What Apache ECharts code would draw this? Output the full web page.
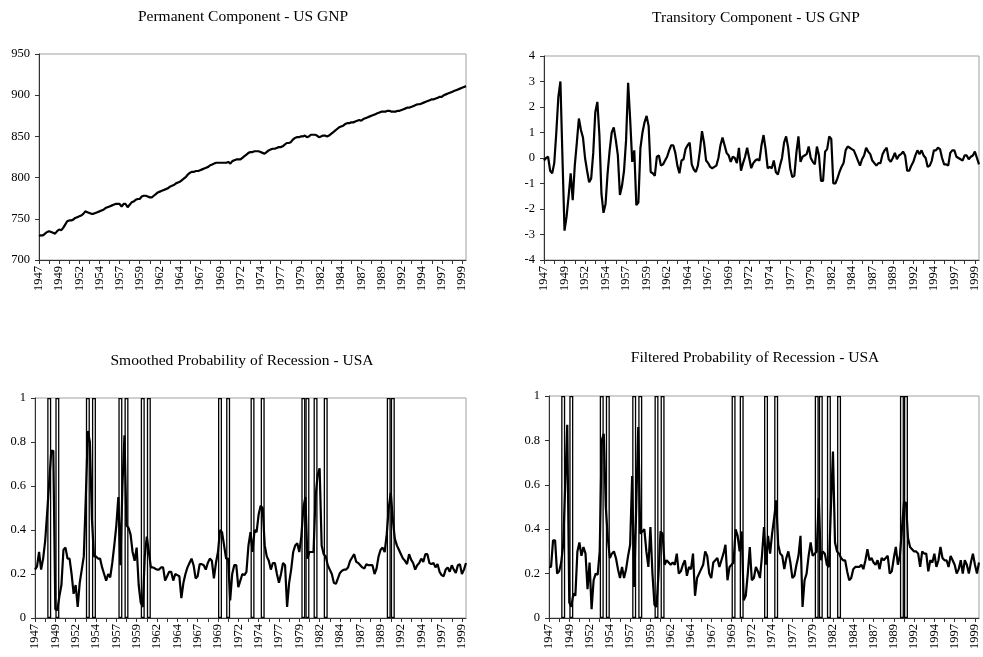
<!DOCTYPE html>
<html><head><meta charset="utf-8">
<script src="https://cdn.jsdelivr.net/npm/echarts@6/dist/echarts.min.js"></script>
<style>html,body{margin:0;padding:0;background:#fff}#c{width:983px;height:657px}</style>
</head><body><div id="c"></div>
<script>
// Quarterly categories 1947Q1 .. 2000Q1
const startYear = 1947;
const nQuarters = 213;
const categories = [];
for (let i = 0; i < nQuarters; i++) categories.push((startYear + Math.floor(i / 4)) + 'Q' + (i % 4 + 1));

const titles = [
  'Permanent Component - US GNP',
  'Transitory Component - US GNP',
  'Smoothed Probability of Recession - USA',
  'Filtered Probability of Recession - USA'
];

const permanent = [
  729,730,730,732, 734,735,734,733, 732,735,737,736, 739,743,747,748,
  748,749,751,752, 753,754,756,759, 758,757,756,756, 757,758,759,760,
  761,763,764,765, 766,767,768,768, 768,765,768,768, 764,767,770,771,
  773,774,774,777, 778,778,777,776, 776,778,780,782, 783,784,785,786,
  787,789,790,791, 793,794,795,797, 799,801,804,806, 807,807,808,808,
  809,810,811,812, 813,815,816,817, 818,818,818,818, 818,818,819,817,
  820,821,822,822, 822,824,826,828, 830,831,831,832, 832,832,831,830,
  829,831,833,834, 835,835,836,837, 837,838,840,842, 842,843,846,848,
  849,849,850,850, 851,849,850,852, 852,852,851,849, 850,851,851,850,
  851,853,855,857, 859,861,862,863, 865,866,866,867, 867,868,869,870,
  869,871,872,873, 874,875,876,877, 878,879,880,880, 880,881,881,880,
  880,880,881,881, 882,883,884,885, 885,886,887,888, 889,889,890,891,
  892,893,894,895, 895,896,897,898, 898,900,901,902, 903,904,905,906,
  907,908,909,910, 911
];

const transitory = [
  -0.1,0.0,0.05,-0.5, -0.6,-0.2,1.0,2.4, 3.0,0.0,-2.85,-2.3, -1.5,-0.6,-1.65,-0.3,
  0.6,1.55,1.1,0.8, 0.0,-0.5,-0.95,-0.8, 0.2,1.8,2.2,0.9, -1.4,-2.15,-1.8,-0.6,
  0.3,1.0,1.2,0.7, 0.1,-1.45,-1.1,-0.5, 0.7,2.95,1.5,-0.15, 0.3,-1.85,-1.75,0.4,
  1.0,1.4,1.65,1.25, -0.55,-0.6,-0.7,0.05, 0.1,-0.3,-0.25,-0.1, 0.05,0.3,0.5,0.5,
  0.2,-0.3,-0.6,-0.1, -0.05,0.35,0.5,0.6, -0.25,-0.45,-0.55,-0.3, 0.3,1.05,0.6,-0.1,
  -0.2,-0.35,-0.4,-0.35, -0.3,0.0,0.5,0.8, 0.5,0.2,0.1,-0.15, 0.05,0.0,-0.2,0.4,
  -0.5,-0.2,0.05,0.4, 0.0,-0.4,-0.2,-0.1, -0.05,-0.1,0.5,0.9, 0.35,-0.4,-0.35,-0.4,
  -0.1,-0.55,-0.65,-0.3, 0.0,0.6,0.85,0.4, -0.4,-0.75,-0.7,0.2, 0.85,-0.15,0.05,0.1,
  0.15,0.45,0.0,-0.15, -0.25,0.45,0.1,-0.9, -0.9,0.25,0.35,0.85, 0.75,-1.0,-1.0,-0.8,
  -0.55,-0.35,-0.2,0.3, 0.45,0.4,0.35,0.3, 0.1,-0.1,-0.3,-0.05, 0.1,0.4,0.25,0.15,
  -0.1,-0.2,-0.3,-0.2, -0.2,0.15,0.3,0.4, -0.05,-0.15,0.0,0.2, -0.05,0.1,0.15,0.25,
  0.1,-0.5,-0.5,-0.3, -0.15,0.1,0.3,0.15, 0.3,0.1,0.0,-0.35, -0.3,-0.1,0.3,0.3,
  0.4,0.35,0.0,-0.25, -0.25,-0.3,0.2,0.3, 0.3,0.05,0.0,-0.05, -0.1,0.1,0.1,-0.05,
  0.05,0.1,0.25,0.0, -0.25
];

const smoothed = [
  0.22,0.235,0.30,0.22, 0.27,0.35,0.48,0.62, 0.76,0.76,0.04,0.035, 0.1,0.15,0.31,0.32,
  0.27,0.27,0.2,0.11, 0.15,0.05,0.16,0.22, 0.28,0.55,0.85,0.8, 0.45,0.28,0.28,0.27,
  0.27,0.23,0.2,0.17, 0.2,0.185,0.25,0.33, 0.42,0.55,0.24,0.6, 0.83,0.42,0.41,0.38,
  0.3,0.26,0.32,0.15, 0.07,0.05,0.28,0.37, 0.3,0.23,0.23,0.225, 0.22,0.22,0.23,0.23,
  0.17,0.19,0.21,0.21, 0.17,0.2,0.195,0.19, 0.09,0.16,0.2,0.23, 0.25,0.27,0.24,0.18,
  0.19,0.245,0.245,0.24, 0.22,0.25,0.27,0.26, 0.18,0.25,0.3,0.4, 0.39,0.33,0.27,0.27,
  0.08,0.2,0.24,0.24, 0.14,0.17,0.2,0.195, 0.21,0.33,0.39,0.3, 0.4,0.39,0.47,0.51,
  0.5,0.33,0.28,0.26, 0.22,0.25,0.25,0.2, 0.16,0.2,0.25,0.24, 0.05,0.16,0.22,0.3,
  0.33,0.34,0.3,0.37, 0.5,0.55,0.27,0.3, 0.3,0.3,0.55,0.65, 0.68,0.33,0.29,0.28,
  0.24,0.22,0.2,0.16, 0.155,0.18,0.205,0.215, 0.22,0.22,0.23,0.26, 0.275,0.29,0.255,0.25,
  0.24,0.23,0.225,0.245, 0.24,0.24,0.24,0.2, 0.225,0.28,0.31,0.32, 0.3,0.38,0.5,0.57,
  0.45,0.36,0.33,0.31, 0.29,0.27,0.26,0.245, 0.29,0.265,0.25,0.22, 0.24,0.25,0.27,0.255,
  0.29,0.29,0.25,0.245, 0.25,0.23,0.245,0.21, 0.195,0.19,0.22,0.23, 0.21,0.24,0.22,0.205,
  0.24,0.245,0.2,0.22, 0.25
];

const filtered = [
  0.23,0.23,0.35,0.35, 0.2,0.21,0.25,0.33, 0.6,0.87,0.07,0.05, 0.11,0.1,0.3,0.34,
  0.28,0.32,0.29,0.13, 0.25,0.04,0.17,0.2, 0.195,0.3,0.8,0.83, 0.5,0.36,0.27,0.29,
  0.3,0.27,0.22,0.18, 0.23,0.18,0.22,0.28, 0.33,0.64,0.14,0.5, 0.86,0.38,0.39,0.4,
  0.3,0.23,0.41,0.2, 0.06,0.05,0.2,0.39, 0.38,0.24,0.26,0.25, 0.24,0.25,0.24,0.29,
  0.2,0.21,0.24,0.26, 0.19,0.23,0.22,0.29, 0.1,0.18,0.2,0.22, 0.24,0.3,0.28,0.2,
  0.18,0.25,0.26,0.27, 0.23,0.26,0.29,0.33, 0.17,0.23,0.24,0.25, 0.4,0.37,0.3,0.39,
  0.08,0.1,0.2,0.32, 0.17,0.18,0.23,0.21, 0.18,0.28,0.41,0.24, 0.37,0.29,0.38,0.45,
  0.53,0.33,0.29,0.28, 0.22,0.27,0.3,0.25, 0.18,0.19,0.24,0.28, 0.37,0.05,0.17,0.2,
  0.28,0.34,0.28,0.29, 0.3,0.54,0.26,0.3, 0.29,0.24,0.23,0.5, 0.75,0.34,0.3,0.29,
  0.27,0.26,0.26,0.21, 0.17,0.18,0.22,0.23, 0.23,0.23,0.24,0.22, 0.26,0.31,0.26,0.27,
  0.25,0.24,0.26,0.22, 0.27,0.26,0.27,0.28, 0.2,0.21,0.27,0.32, 0.24,0.28,0.4,0.52,
  0.52,0.36,0.32,0.31, 0.3,0.3,0.29,0.23, 0.3,0.29,0.29,0.21, 0.26,0.25,0.29,0.23,
  0.26,0.32,0.27,0.26, 0.26,0.23,0.28,0.26, 0.24,0.2,0.22,0.26, 0.2,0.26,0.24,0.2,
  0.25,0.29,0.24,0.2, 0.25
];

// NBER peak / trough quarters drawn as vertical markers
const recessionQuarters = ['1948Q4','1949Q4','1953Q3','1954Q2','1957Q3','1958Q2','1960Q2','1961Q1',
  '1969Q4','1970Q4','1973Q4','1975Q1','1980Q1','1980Q3','1981Q3','1982Q4','1990Q3','1991Q1'];

const yRanges = [
  {min: 700, max: 950, interval: 50},
  {min: -4, max: 4, interval: 1},
  {min: 0, max: 1, interval: 0.2},
  {min: 0, max: 1, interval: 0.2}
];

const FONT = 'Liberation Serif';
const grids = [
  {left: 39, top: 54, width: 427, height: 206},
  {left: 544, top: 56, width: 435, height: 204},
  {left: 35, top: 398, width: 431, height: 220},
  {left: 549, top: 396, width: 430, height: 222}
];
const titlePos = [[238, 4], [751, 5], [237, 348], [750, 345]];

const chart = echarts.init(document.getElementById('c'), null, {renderer: 'canvas'});
const option = {
  animation: false,
  backgroundColor: '#fff',
  title: titles.map((t, k) => ({
    text: t, left: titlePos[k][0], top: titlePos[k][1], textAlign: 'center',
    textStyle: {fontFamily: FONT, fontSize: 15.5, fontWeight: 'normal', color: '#000'}
  })),
  grid: grids.map(g => Object.assign({show: true, borderColor: '#a0a0a0', borderWidth: 1, backgroundColor: '#fff'}, g)),
  xAxis: grids.map((g, k) => ({
    type: 'category', gridIndex: k, data: categories, boundaryGap: false,
    axisLine: {onZero: false, lineStyle: {color: '#333', width: 1}},
    axisTick: {interval: 4, length: 4, lineStyle: {color: '#333'}},
    axisLabel: {interval: 9, rotate: 90, margin: 6, fontFamily: FONT, fontSize: 12.5, color: '#000',
      formatter: v => v.slice(0, 4)},
    splitLine: {show: false}
  })),
  yAxis: yRanges.map((r, k) => ({
    type: 'value', gridIndex: k, min: r.min, max: r.max, interval: r.interval,
    axisLine: {show: true, lineStyle: {color: '#333', width: 1}},
    axisTick: {show: true, length: 4, lineStyle: {color: '#333'}},
    axisLabel: {margin: 9, fontFamily: FONT, fontSize: 12.5, color: '#000'},
    splitLine: {show: false}
  })),
  series: [
    ...[permanent, transitory, smoothed, filtered].map((d, k) => ({
      type: 'line', xAxisIndex: k, yAxisIndex: k, data: d, symbol: 'none',
      lineStyle: {color: '#000', width: 2.2}, z: 3
    })),
    ...[2, 3].map(k => ({
      type: 'bar', xAxisIndex: k, yAxisIndex: k, barWidth: 4, z: 4,
      data: categories.map(c => recessionQuarters.includes(c) ? 1 : '-'),
      itemStyle: {color: 'rgba(0,0,0,0)', borderColor: '#000', borderWidth: 1.3}
    }))
  ]
};
chart.setOption(option);
</script></body></html>
